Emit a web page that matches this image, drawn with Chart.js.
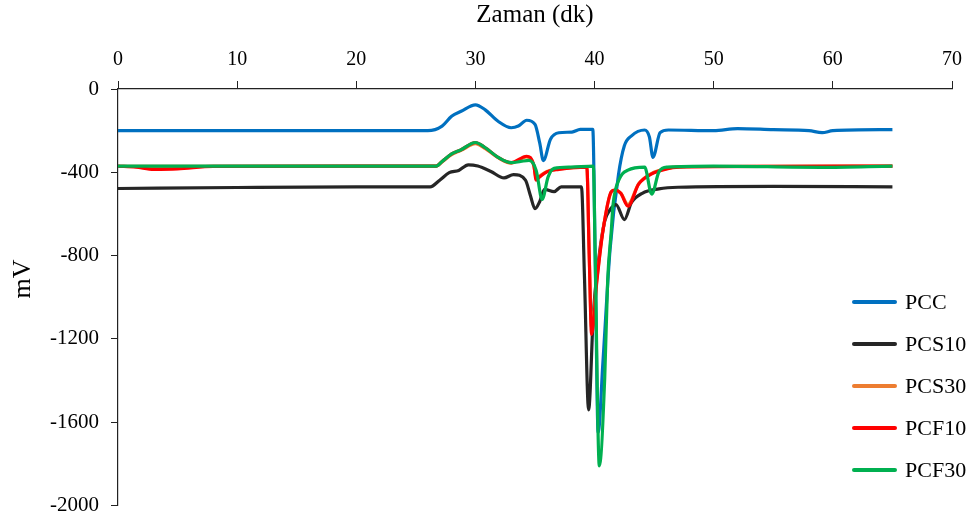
<!DOCTYPE html>
<html>
<head>
<meta charset="utf-8">
<script src="https://cdn.jsdelivr.net/npm/chart.js@4.4.1/dist/chart.umd.min.js"></script>
<style>
    html, body { margin: 0; padding: 0; background: #fff; }
    .wrap { position: relative; width: 971px; height: 530px; }
    .legend { position: absolute; left: 852px; top: 281px; font-family: "Liberation Serif", "Times New Roman", serif; font-size: 22px; color: #000; }
    .legend .item { height: 42px; display: flex; align-items: center; }
    .legend .item span { display: inline-block; width: 45px; height: 4px; border-radius: 2px; margin-right: 8px; }
</style>
</head>
<body>
<div class="wrap">
    <canvas id="chart" width="971" height="530"></canvas>
    <div class="legend"></div>
</div>
<script>
// Series data: time (dk) and value (mV).
var labels = ["PCC", "PCS10", "PCS30", "PCF10", "PCF30"];
var colors = ["#0070C0", "#262626", "#ED7D31", "#FF0000", "#00B050"];

var pccT = [0, 10, 20, 26, 27.2, 28, 28.8, 30, 30.8, 31.9, 33, 33.6, 34.3, 35, 35.4, 35.7, 36.3, 37, 38.1, 38.8, 39.85, 40.05, 40.3, 40.7, 41.3, 42, 42.5, 43.1, 44.2, 44.6, 44.9, 45.5, 46.2, 50, 52, 55, 58, 59.1, 60, 65];
var pccV = [-200, -200, -200, -200, -178, -131, -107, -76, -99, -155, -186, -178, -150, -170, -260, -344, -241, -210, -207, -194, -194, -800, -1650, -1313, -770, -414, -273, -225, -197, -230, -328, -210, -197, -200, -190, -195, -200, -210, -200, -195];

var pcs10T = [0, 10, 20, 26.2, 27, 27.8, 28.6, 29.4, 30.2, 31.3, 32.4, 33.2, 34.2, 34.6, 35, 35.4, 35.8, 36.6, 37.2, 38.9, 39.15, 39.5, 39.9, 40.3, 40.85, 41.3, 41.8, 42.5, 43.1, 44, 45.4, 47, 55, 65];
var pcs10V = [-478, -473, -470, -470, -438, -402, -391, -364, -370, -396, -427, -411, -438, -509, -575, -540, -482, -493, -470, -470, -900, -1541, -1076, -840, -635, -580, -555, -627, -545, -501, -480, -472, -468, -470];

var pcs30T = [0, 20, 26.7, 27.2, 28, 28.8, 30, 30.8, 31.9, 33, 34.3, 34.9, 35.1, 35.4, 36, 37, 39.35, 39.55, 39.75, 40.2, 40.7, 41.4, 41.7, 42.2, 42.8, 43.7, 44.8, 45.9, 47.1, 55, 65];
var pcs30V = [-372, -370, -370, -350, -315, -295, -262, -285, -330, -356, -326, -368, -430, -418, -396, -384, -375, -790, -1150, -910, -680, -495, -486, -500, -555, -455, -405, -384, -374, -371, -370];

var pcf10T = [0, 1.5, 3, 5, 8, 20, 26.7, 27.2, 28, 28.8, 30, 30.8, 31.9, 33, 34.3, 34.9, 35.1, 35.4, 36, 37, 39.35, 39.55, 39.75, 40.2, 40.7, 41.4, 41.7, 42.2, 42.8, 43.7, 44.8, 45.9, 47.1, 55, 65];
var pcf10V = [-370, -375, -386, -384, -372, -370, -370, -348, -312, -292, -257, -281, -328, -354, -323, -367, -438, -422, -398, -386, -375, -800, -1179, -919, -683, -493, -485, -501, -563, -457, -408, -386, -375, -372, -370];

var pcf30T = [0, 20, 26.7, 27.2, 28, 28.8, 30, 30.8, 31.9, 33, 33.8, 34.5, 35.1, 35.6, 36.1, 36.6, 38, 39.9, 40.05, 40.4, 40.85, 41.1, 41.4, 41.55, 42.1, 42.8, 44.2, 44.8, 45.4, 46.1, 50, 59, 65];
var pcf30V = [-370, -370, -370, -348, -312, -292, -257, -281, -328, -354, -348, -343, -391, -530, -422, -381, -375, -370, -800, -1810, -1391, -919, -683, -556, -430, -390, -375, -505, -398, -375, -370, -376, -370];

// Axis ticks.
var xTicks = [0, 10, 20, 30, 40, 50, 60, 70];
var yTicks = [0, -400, -800, -1200, -1600, -2000];

var times = [pccT, pcs10T, pcs30T, pcf10T, pcf30T];
var values = [pccV, pcs10V, pcs30V, pcf10V, pcf30V];

const serif = '"Liberation Serif", "Times New Roman", serif';

var datasets = labels.map((label, i) => ({
    label: label,
    data: times[i].map((t, j) => ({ x: t, y: values[i][j] })),
    borderColor: colors[i],
    backgroundColor: colors[i],
    borderWidth: 3.2,
    pointRadius: 0,
    cubicInterpolationMode: 'monotone',
    // last dataset is drawn on top
    order: labels.length - i
}));

// Draw the rotated "mV" title a bit above the middle, as in the picture.
const yTitle = {
    id: 'yTitle',
    afterDraw(chart) {
        const c = chart.ctx;
        c.save();
        c.translate(23, 279);
        c.rotate(-Math.PI / 2);
        c.font = '26px ' + serif;
        c.fillStyle = '#000';
        c.textAlign = 'center';
        c.textBaseline = 'middle';
        c.fillText('mV', 0, 0);
        c.restore();
    }
};

const ctx = document.getElementById('chart').getContext('2d');
const myChart = new Chart(ctx, {
    type: 'line',
    data: { datasets: datasets },
    options: {
        responsive: false,
        animation: false,
        events: [],
        layout: { padding: { left: 0, right: 16, top: 0, bottom: 18 } },
        plugins: {
            legend: { display: false },
            tooltip: { enabled: false }
        },
        scales: {
            x: {
                type: 'linear',
                position: 'top',
                min: 0,
                max: 70,
                afterBuildTicks: (scale) => { scale.ticks = xTicks.map(v => ({ value: v })); },
                afterFit: (scale) => { scale.height = 89; },
                grid: { drawOnChartArea: false, tickLength: 8, color: '#222', lineWidth: 1 },
                border: { color: '#222', width: 1.2 },
                ticks: { color: '#000', font: { family: serif, size: 20 }, padding: 9, maxRotation: 0 },
                title: { display: true, text: 'Zaman (dk)', color: '#000', font: { family: serif, size: 25 }, padding: { top: 0, bottom: 4 } }
            },
            y: {
                min: -2000,
                max: 0,
                afterBuildTicks: (scale) => { scale.ticks = yTicks.map(v => ({ value: v })); },
                afterFit: (scale) => { scale.width = 118; },
                grid: { drawOnChartArea: false, tickLength: 7, color: '#222', lineWidth: 1 },
                border: { color: '#222', width: 1.2 },
                ticks: { color: '#000', font: { family: serif, size: 21 }, padding: 12, callback: (v) => String(v) }
            }
        }
    },
    plugins: [yTitle]
});

// Set the legend.
var legendNode = document.querySelector(".legend");
labels.forEach((label, index) => {
    const item = document.createElement("div");
    item.className = "item";
    const span = document.createElement("span");
    span.setAttribute("style", "background-color:" + colors[index]);
    item.appendChild(span);
    item.appendChild(document.createTextNode(label));
    legendNode.appendChild(item);
});
</script>
</body>
</html>
